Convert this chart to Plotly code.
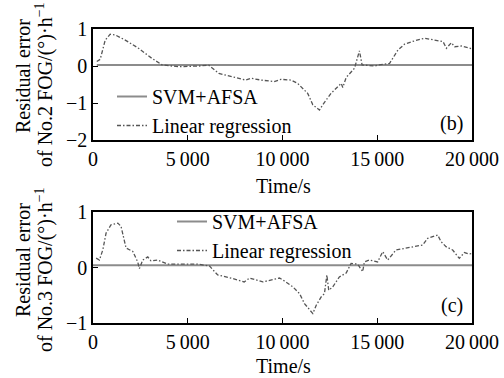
import plotly.graph_objects as go

# ---------- data ----------
svm_b_x = [200, 5000, 10000, 15000, 20000]
svm_b_y = [0.03, 0.03, 0.03, 0.03, 0.03]

lr_b_x = [200, 380, 645, 910, 1170, 1700, 2400, 3100, 3640, 4520, 5580, 6110, 6640,
          7340, 8050, 8340, 8860, 9560, 9920, 10450, 10800, 11330, 11600, 11950,
          12120, 12560, 13100, 13180, 13360, 13800, 14060, 14200, 14850, 15100,
          15650, 16090, 16440, 16970, 17500, 18030, 18470, 18650, 18910, 19090,
          19440, 19880, 20000]
lr_b_y = [0.12, 0.18, 0.70, 0.86, 0.84, 0.70, 0.48, 0.21, 0.03, -0.02, 0.0, 0.02,
          -0.20, -0.29, -0.38, -0.33, -0.38, -0.42, -0.36, -0.38, -0.47, -0.74,
          -1.05, -1.19, -1.05, -0.74, -0.47, -0.58, -0.31, -0.06, 0.41, 0.03, 0.0,
          0.03, 0.07, 0.43, 0.59, 0.68, 0.75, 0.70, 0.66, 0.48, 0.63, 0.52, 0.54,
          0.48, 0.46]

svm_c_x = [0, 5000, 10000, 15000, 20000]
svm_c_y = [0.04, 0.04, 0.04, 0.04, 0.04]

lr_c_x = [165, 340, 520, 690, 950, 1310, 1480, 1745, 2100, 2360, 2450, 2625, 2890,
          3060, 3415, 3940, 4820, 5520, 6140, 6580, 7280, 7980, 8260, 8960, 9840,
          10020, 10550, 10900, 11160, 11600, 11780, 12040, 12215, 12340, 12440,
          12650, 13000, 13360, 13620, 13970, 14230, 14320, 14590, 15020, 15290,
          15550, 15990, 16520, 17050, 17400, 17660, 18190, 18370, 18630, 18980,
          19330, 19600, 19820, 20000]
lr_c_y = [0.17, 0.135, 0.32, 0.62, 0.77, 0.80, 0.74, 0.35, 0.29, 0.10, -0.02, 0.135,
          0.19, 0.12, 0.135, 0.06, 0.06, 0.06, 0.03, -0.135, -0.19, -0.26, -0.19,
          -0.26, -0.19, -0.225, -0.35, -0.47, -0.65, -0.83, -0.68, -0.53, -0.47,
          -0.135, -0.41, -0.35, -0.17, -0.10, 0.075, 0.06, -0.075, 0.10, 0.135,
          0.10, 0.285, 0.135, 0.315, 0.345, 0.375, 0.405, 0.525, 0.585, 0.465,
          0.375, 0.315, 0.165, 0.27, 0.245, 0.25]

x_tickvals = [0, 5000, 10000, 15000, 20000]
x_ticktext = ["0", "5\u2009000", "10\u2009000", "15\u2009000", "20\u2009000"]

FONT = "Liberation Serif, Times New Roman, serif"
SVM_COLOR = "#8c8c8c"
LR_COLOR = "#555555"
LR_DASH = "4px,2px,1.5px,2px"

fig = go.Figure()
fig.add_trace(go.Scatter(x=svm_b_x, y=svm_b_y, mode="lines", name="SVM+AFSA",
                         line=dict(color=SVM_COLOR, width=2), xaxis="x", yaxis="y",
                         legend="legend"))
fig.add_trace(go.Scatter(x=lr_b_x, y=lr_b_y, mode="lines", name="Linear regression",
                         line=dict(color=LR_COLOR, width=1.3, dash=LR_DASH),
                         xaxis="x", yaxis="y", legend="legend"))
fig.add_trace(go.Scatter(x=svm_c_x, y=svm_c_y, mode="lines", name="SVM+AFSA",
                         line=dict(color=SVM_COLOR, width=2), xaxis="x2", yaxis="y2",
                         legend="legend2"))
fig.add_trace(go.Scatter(x=lr_c_x, y=lr_c_y, mode="lines", name="Linear regression",
                         line=dict(color=LR_COLOR, width=1.3, dash=LR_DASH),
                         xaxis="x2", yaxis="y2", legend="legend2"))

axis_common = dict(showgrid=False, zeroline=False, showline=True, linecolor="black",
                   linewidth=1.5, mirror=True, ticks="inside", ticklen=5,
                   tickcolor="black", automargin=False,
                   tickfont=dict(family=FONT, size=20, color="black"))

xdom = [93 / 504, 472 / 504]
fig.update_layout(
    width=504, height=378,
    margin=dict(l=0, r=0, t=0, b=0, pad=0, autoexpand=False),
    paper_bgcolor="white", plot_bgcolor="white",
    font=dict(family=FONT, size=20, color="black"),
    xaxis=dict(domain=xdom, range=[0, 20000], tickvals=x_tickvals, ticktext=x_ticktext,
               anchor="y", **axis_common),
    yaxis=dict(domain=[1 - 140 / 378, 1 - 29 / 378], range=[-2, 1], tickvals=[-2, -1, 0, 1],
               anchor="x", **axis_common),
    xaxis2=dict(domain=xdom, range=[0, 20000], tickvals=x_tickvals, ticktext=x_ticktext,
                anchor="y2", **axis_common),
    yaxis2=dict(domain=[1 - 323 / 378, 1 - 212 / 378], range=[-1, 1], tickvals=[-1, 0, 1],
                anchor="x2", **axis_common),
    legend=dict(x=112 / 504, y=1 - 77 / 378, xanchor="left", yanchor="top",
                bgcolor="rgba(0,0,0,0)", font=dict(family=FONT, size=20),
                tracegroupgap=0, itemwidth=30),
    legend2=dict(x=172 / 504, y=1 - 202 / 378, xanchor="left", yanchor="top",
                 bgcolor="rgba(0,0,0,0)", font=dict(family=FONT, size=20),
                 tracegroupgap=0, itemwidth=30),
    showlegend=True,
)

ann = []
common_ann = dict(showarrow=False, xanchor="center", yanchor="middle",
                  font=dict(family=FONT, size=20, color="black"))
# y titles (two lines each): (line-1 centre y, line-2 centre y, FOG number)
for cy1, cy2, num in [(76, 85, "2"), (260, 270, "3")]:
    ann.append(dict(text="Residual error", x=23 / 504, y=1 - cy1 / 378, xref="paper",
                    yref="paper", textangle=-90, **common_ann))
    ann.append(dict(text=f"of No.{num} FOG/(°)·h<sup>−1</sup>", x=44 / 504, y=1 - cy2 / 378,
                    xref="paper", yref="paper", textangle=-90, **common_ann))
# x titles
ann.append(dict(text="Time/s", x=283 / 504, y=1 - 186 / 378, xref="paper", yref="paper",
                **common_ann))
ann.append(dict(text="Time/s", x=283 / 504, y=1 - 366 / 378, xref="paper", yref="paper",
                **common_ann))
# panel tags
ann.append(dict(text="(b)", x=0.945, y=0.153, xref="x domain", yref="y domain",
                **common_ann))
ann.append(dict(text="(c)", x=0.947, y=0.162, xref="x2 domain", yref="y2 domain",
                **common_ann))
fig.update_layout(annotations=ann)

fig.write_html("out.html")
